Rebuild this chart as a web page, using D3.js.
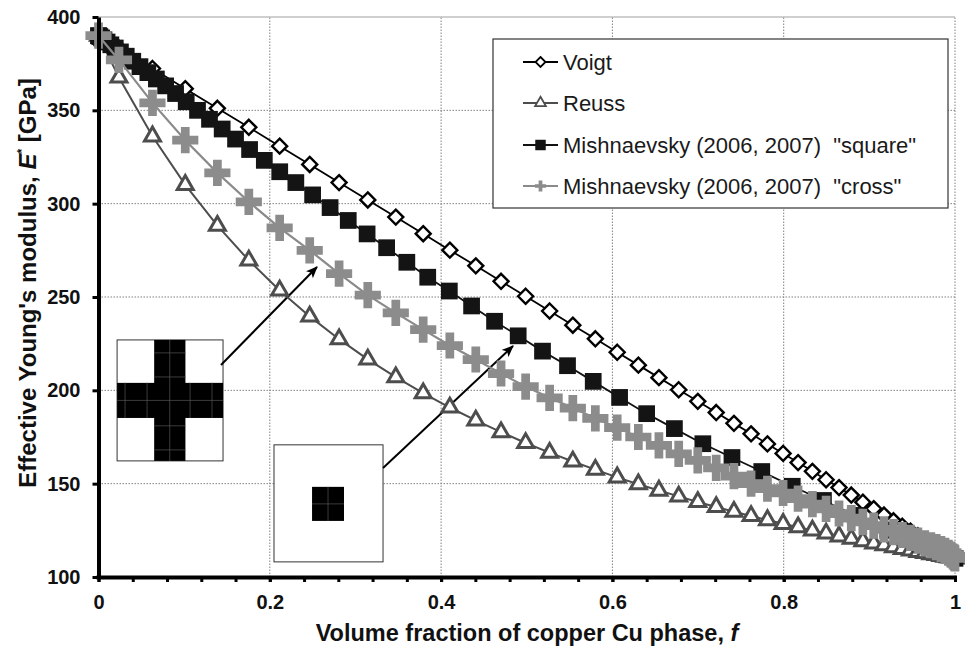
<!DOCTYPE html>
<html><head><meta charset="utf-8">
<script src="https://cdn.jsdelivr.net/npm/d3@7"></script>
<style>body{margin:0;background:#fff}svg{display:block}</style>
</head><body>
<svg id="c" width="965" height="650"></svg>
<script>
// f positions shared by Voigt, Reuss and "cross" series
const fBound = [0,0.0239,0.0630,0.1013,0.1388,0.1755,0.2115,0.2466,0.2809,0.3144,0.3471,0.3791,0.4102,0.4405,0.4700,0.4987,0.5267,0.5538,0.5801,0.6056,0.6303,0.6543,0.6774,0.6997,0.7212,0.7419,0.7619,0.7810,0.7993,0.8168,0.8335,0.8495,0.8646,0.8789,0.8924,0.9051,0.9171,0.9282,0.9385,0.9480,0.9567,0.9647,0.9718,0.9781,0.9836,0.9883,0.9923,0.9954,0.9977,0.9992,1.0];
const voigtE = [390,383.3,372.4,361.6,351.1,340.9,330.8,321.0,311.3,302.0,292.8,283.9,275.1,266.7,258.4,250.4,242.5,234.9,227.6,220.4,213.5,206.8,200.3,194.1,188.1,182.3,176.7,171.3,166.2,161.3,156.6,152.1,147.9,143.9,140.1,136.6,133.2,130.1,127.2,124.6,122.1,119.9,117.9,116.1,114.6,113.3,112.2,111.3,110.6,110.2,110.0];
const reussE = [390,367.6,336.1,310.1,288.2,269.6,253.5,239.6,227.4,216.6,207.1,198.5,190.8,183.9,177.6,171.8,166.6,161.9,157.5,153.4,149.7,146.3,143.2,140.2,137.5,135.0,132.7,130.5,128.5,126.7,124.9,123.3,121.8,120.5,119.2,118.0,117.0,116.0,115.1,114.3,113.5,112.9,112.3,111.8,111.3,110.9,110.6,110.4,110.2,110.1,110.0];
const crossE = [390,377,354,334,316.5,301,287,275,262.5,251,241.5,232.5,224,216.5,209,202,196,190.5,185,180,175,170.5,166,162.5,158.5,154,150,147.3,145,142,139,136.5,134,131.5,129.5,127.5,125.5,124,122.5,121,119.5,118,117,116,115,114,113,112,111,110.5,110];
// f positions and values of the "square" series
const fSquare = [0,0.0004,0.0016,0.0036,0.0064,0.01,0.0144,0.0196,0.0256,0.0324,0.04,0.0484,0.0576,0.0676,0.0784,0.09,0.1024,0.1156,0.1296,0.1444,0.16,0.1764,0.1936,0.2116,0.2304,0.25,0.2704,0.2916,0.3136,0.3364,0.36,0.3844,0.4096,0.4356,0.4624,0.49,0.5184,0.5476,0.5776,0.6084,0.64,0.6724,0.7056,0.7396,0.7744,0.81,0.8464,0.8836,0.9216,0.9604,1];
const squareE = [390,389.9,389.5,388.8,387.8,386.6,385.1,383.4,381.3,379.0,376.3,373.4,370.2,366.8,363.1,359.0,354.6,350.0,345.2,340.0,334.6,329.0,323.2,317.1,311.3,304.7,297.9,291.0,283.8,276.4,268.6,260.6,253.2,245.2,237.0,229.2,221.0,213.2,204.8,196.2,187.5,179.5,171.4,164.0,156.5,148.6,141.0,133.0,125.0,117.4,110];

const xMajorTicks = [0,0.2,0.4,0.6,0.8,1];
const xTickLabels = ["0","0.2","0.4","0.6","0.8","1"];
const xMinorTicks = [0,0.04,0.08,0.12,0.16,0.2,0.24,0.28,0.32,0.36,0.4,0.44,0.48,0.52,0.56,0.6,0.64,0.68,0.72,0.76,0.8,0.84,0.88,0.92,0.96,1];
const yTicks = [100,150,200,250,300,350,400];
const seriesNames = ["Voigt","Reuss","Mishnaevsky (2006, 2007)  \"square\"","Mishnaevsky (2006, 2007)  \"cross\""];

const svg = d3.select("#c");
const FONT = "Arial, 'Liberation Sans', sans-serif";
const x = d3.scaleLinear().domain([0,1]).range([98.5,955]);
const y = d3.scaleLinear().domain([100,400]).range([577,17]);

// grid
const g = svg.append("g");
g.selectAll("line.h").data(yTicks.filter(v=>v>100&&v<400)).join("line")
 .attr("x1",x(0)).attr("x2",x(1)).attr("y1",d=>y(d)).attr("y2",d=>y(d))
 .attr("stroke","#808080").attr("stroke-width",1).attr("stroke-dasharray","1.5,1.5");
g.selectAll("line.v").data(xMajorTicks.filter(v=>v>0)).join("line")
 .attr("y1",y(100)).attr("y2",y(400)).attr("x1",d=>x(d)).attr("x2",d=>x(d))
 .attr("stroke","#808080").attr("stroke-width",1).attr("stroke-dasharray","1.5,1.5");
g.append("line").attr("x1",x(0)).attr("x2",x(1)).attr("y1",y(400)).attr("y2",y(400))
 .attr("stroke","#a0a0a0").attr("stroke-width",1.2);

// insets (drawn in data space)
function inset(f0,f1,e0,e1,kind){
  const X0=x(f0),X1=x(f1),Y0=y(e0),Y1=y(e1),W=X1-X0,H=Y1-Y0;
  const gi=svg.append("g");
  gi.append("rect").attr("x",X0).attr("y",Y0).attr("width",W).attr("height",H)
    .attr("fill","#fff").attr("stroke","#333").attr("stroke-width",1);
  if(kind==="cross"){
    const a=0.35,b=0.645;
    gi.append("rect").attr("x",X0+a*W).attr("y",Y0).attr("width",(b-a)*W).attr("height",H).attr("fill","#000");
    gi.append("rect").attr("x",X0).attr("y",Y0+0.355*H).attr("width",W).attr("height",0.29*H).attr("fill","#000");
    const cid="clipX";
    const cp=svg.append("clipPath").attr("id",cid);
    cp.append("rect").attr("x",X0+a*W).attr("y",Y0).attr("width",(b-a)*W).attr("height",H);
    cp.append("rect").attr("x",X0).attr("y",Y0+0.355*H).attr("width",W).attr("height",0.29*H);
    const gl=gi.append("g").attr("clip-path",`url(#${cid})`);
    [0.075,0.283,0.497,0.689,0.896].forEach(t=>gl.append("line").attr("x1",X0+t*W).attr("x2",X0+t*W).attr("y1",Y0).attr("y2",Y1).attr("stroke","#555").attr("stroke-width",0.7));
    [0.107,0.306,0.5,0.71,0.909].forEach(t=>gl.append("line").attr("y1",Y0+t*H).attr("y2",Y0+t*H).attr("x1",X0).attr("x2",X1).attr("stroke","#555").attr("stroke-width",0.7));
  } else {
    const sx=X0+0.349*W, sw=0.293*W, sy=Y0+0.359*H, sh=0.291*H;
    gi.append("rect").attr("x",sx).attr("y",sy).attr("width",sw).attr("height",sh).attr("fill","#000");
    gi.append("line").attr("x1",sx+sw/2).attr("x2",sx+sw/2).attr("y1",sy).attr("y2",sy+sh).attr("stroke","#555").attr("stroke-width",0.7);
    gi.append("line").attr("y1",sy+sh/2).attr("y2",sy+sh/2).attr("x1",sx).attr("x2",sx+sw).attr("stroke","#555").attr("stroke-width",0.7);
  }
}
inset(0.0217,0.1454,227,162.2,"cross");
inset(0.2049,0.3322,170.8,108.1,"square");

// arrows
svg.append("defs").append("marker").attr("id","ah").attr("viewBox","0 0 12 10").attr("refX",11).attr("refY",5)
 .attr("markerWidth",12).attr("markerHeight",10).attr("markerUnits","userSpaceOnUse").attr("orient","auto")
 .append("path").attr("d","M0,0 L12,5 L0,10 L3,5 Z").attr("fill","#000");
[[0.143,213.6,0.2551,266.1],[0.3322,158.4,0.484,223.8]].forEach(a=>{
  svg.append("line").attr("x1",x(a[0])).attr("y1",y(a[1])).attr("x2",x(a[2])).attr("y2",y(a[3]))
   .attr("stroke","#000").attr("stroke-width",2).attr("marker-end","url(#ah)");
});

// series
const line = d3.line().x(d=>x(d[0])).y(d=>y(d[1]));
const zip=(fs,es)=>fs.map((f,i)=>[f,es[i]]);
const diamond = r => `M0,${-r}L${r},0L0,${r}L${-r},0Z`;
const series = [
  {pts:zip(fBound,voigtE), lc:"#000", lw:1.8, sym:diamond(7.5), fill:"#fff", stroke:"#000", sw:2.4, lsym:diamond(5), lsw:1.8},
  {pts:zip(fBound,reussE), lc:"#4d4d4d", lw:2, sym:d3.symbol(d3.symbolTriangle,110)(), fill:"#fff", stroke:"#4d4d4d", sw:3, lsym:d3.symbol(d3.symbolTriangle,50)(), lsw:1.8},
  {pts:zip(fSquare,squareE), lc:"#111", lw:1.8, sym:d3.symbol(d3.symbolSquare,280)(), fill:"#141414", stroke:"none", sw:0, lsym:d3.symbol(d3.symbolSquare,110)(), lsw:0},
  {pts:zip(fBound,crossE), lc:"#8a8a8a", lw:2.2, sym:d3.symbol(d3.symbolCross,380)(), fill:"#8c8c8c", stroke:"none", sw:0, lsym:d3.symbol(d3.symbolCross,70)(), lsw:0}
];
series.forEach(s=>{
  const gs=svg.append("g");
  gs.append("path").attr("d",line(s.pts)).attr("fill","none").attr("stroke",s.lc).attr("stroke-width",s.lw);
  gs.selectAll("path.m").data(s.pts).join("path").attr("class","m")
    .attr("transform",d=>`translate(${x(d[0])},${y(d[1])})`).attr("d",s.sym)
    .attr("fill",s.fill).attr("stroke",s.stroke).attr("stroke-width",s.sw);
});

// axes
const ay = svg.append("g").attr("transform",`translate(${x(0)},0)`)
 .call(d3.axisLeft(y).tickValues(yTicks).tickSize(6).tickSizeOuter(0).tickPadding(12).tickFormat(d3.format("d")));
ay.select(".domain").attr("stroke","#000").attr("stroke-width",4);
ay.selectAll(".tick line").attr("stroke","#000").attr("stroke-width",3);
ay.selectAll(".tick text").attr("font-family",FONT).attr("font-weight","bold").attr("font-size",20).attr("fill","#111");

const axm = svg.append("g").attr("transform",`translate(0,${y(100)})`)
 .call(d3.axisBottom(x).tickValues(xMinorTicks).tickSize(5).tickSizeOuter(0).tickFormat(""));
axm.select(".domain").attr("stroke","#000").attr("stroke-width",4).attr("d",`M${x(0)-2},0.5H${x(1)+2}`);
axm.selectAll(".tick line").attr("stroke","#000").attr("stroke-width",3);
const ax = svg.append("g").attr("transform",`translate(0,${y(100)})`)
 .call(d3.axisBottom(x).tickValues(xMajorTicks).tickSize(5).tickSizeOuter(0).tickPadding(13).tickFormat((d,i)=>xTickLabels[i]));
ax.select(".domain").remove();
ax.selectAll(".tick line").attr("stroke","#000").attr("stroke-width",3);
ax.selectAll(".tick text").attr("font-family",FONT).attr("font-weight","bold").attr("font-size",20).attr("fill","#111");

// axis titles
const yt = svg.append("text").attr("transform","translate(36,283) rotate(-90)").attr("text-anchor","middle")
 .attr("font-family",FONT).attr("font-weight","bold").attr("font-size",24).attr("fill","#111");
yt.append("tspan").text("Effective Young's modulus, ");
yt.append("tspan").attr("font-style","italic").text("E");
yt.append("tspan").attr("font-size",12).attr("dy",-10).text("*");
yt.append("tspan").attr("dy",10).text(" [GPa]");
const xt = svg.append("text").attr("x",527).attr("y",641).attr("text-anchor","middle")
 .attr("font-family",FONT).attr("font-weight","bold").attr("font-size",23.5).attr("fill","#111");
xt.append("tspan").text("Volume fraction of copper Cu phase, ");
xt.append("tspan").attr("font-style","italic").text("f");

// legend
const lg = svg.append("g");
lg.append("rect").attr("x",493).attr("y",39).attr("width",455).attr("height",169).attr("fill","#fff").attr("stroke","#333").attr("stroke-width",1.2);
const rowY=[62,103,145,186];
series.forEach((s,i)=>{
  const gy=rowY[i];
  lg.append("line").attr("x1",523).attr("x2",558).attr("y1",gy).attr("y2",gy).attr("stroke",s.lc).attr("stroke-width",2);
  lg.append("path").attr("transform",`translate(540.5,${gy})`).attr("d",s.lsym).attr("fill",s.fill).attr("stroke",s.stroke).attr("stroke-width",s.lsw);
  lg.append("text").attr("x",563).attr("y",gy).attr("dy","0.35em").attr("font-family",FONT).attr("font-size",22)
    .attr("fill","#1a1a1a").style("white-space","pre").text(seriesNames[i]);
});
</script>
</body></html>
